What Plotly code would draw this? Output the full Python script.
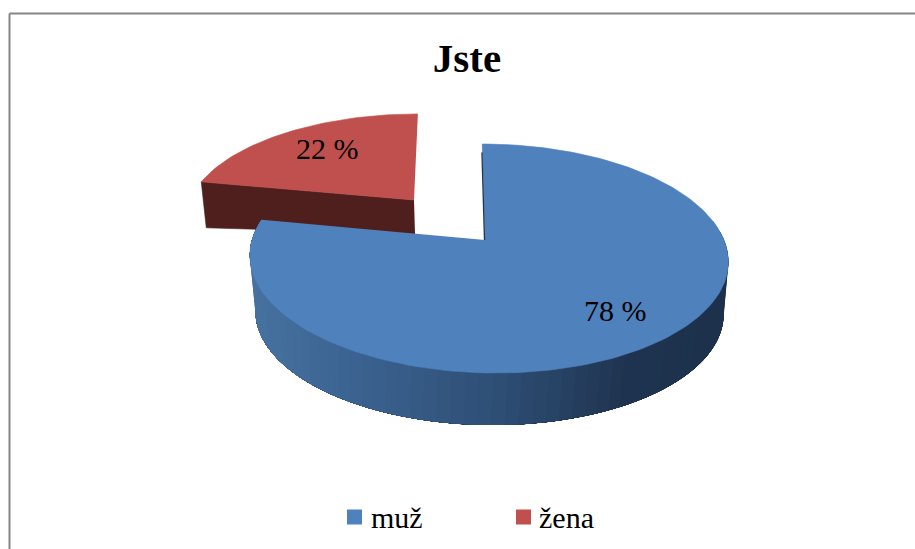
import numpy as np
import plotly.graph_objects as go

# Data
categories = ["muž", "žena"]
values = [78, 22]
title_text = "Jste"

# Styles
TOP = ["#4f81bd", "#c0504d"]
RED_WALL = "#4f1f1e"
FONT = "Liberation Serif"
GRAD_STOPS_X = [255, 350, 500, 620, 725]
GRAD_STOPS_RGB = [(72, 114, 160), (60, 100, 146), (46, 78, 116), (31, 52, 80), (29, 49, 76)]
P = 0.1616


def project(angles_deg, apex, a, k, shear, r=1.0):
    """Perspective projection of points on a pie, clockwise from 12 o'clock."""
    t = np.radians(angles_deg)
    u, v = r * np.sin(t), -r * np.cos(t)
    d = 1 - P * v
    y_off = k * v / d
    x = apex[0] + a * u / d + shear * y_off
    y = apex[1] + y_off
    return x, y


total = sum(values)
blue_end = 360 * values[0] / total

BLUE = dict(apex=(488, 240), a=236, k=111.5, shear=0.06)
BLUE_APEX = (485, 240)
BLUE_LOW = dict(apex=(489, 294.5), a=231, k=109.5, shear=0.03)
RED = dict(apex=(414, 200), a=224, k=100, shear=-0.045)
RED_APEX_DROP = (1, 34)
RED_RIM_DROP = (5, 46)

fig = go.Figure()


def poly(x, y, color, lw=0.6):
    fig.add_trace(go.Scatter(x=list(x), y=list(y), mode="lines", fill="toself",
                             fillcolor=color, line=dict(color=color, width=lw),
                             showlegend=False, hoverinfo="skip"))


# Red slice: wall then top
xa, ya = project(np.array([blue_end]), **RED)
ax, ay = RED["apex"]
poly([ax, xa[0], xa[0] + RED_RIM_DROP[0], ax + RED_APEX_DROP[0]],
     [ay, ya[0], ya[0] + RED_RIM_DROP[1], ay + RED_APEX_DROP[1]], RED_WALL)
arc = np.linspace(blue_end, 360, 50)
x, y = project(arc, **RED)
poly([ax, *x], [ay, *y], TOP[1])

# Blue wall, shaded: each band is painted over the previous one to avoid seams
edges = np.linspace(80, blue_end, 71)
for a0 in edges[:-1]:
    seg = np.linspace(a0, blue_end, 60)
    xt, yt = project(seg, **BLUE)
    xl, yl = project(seg, **BLUE_LOW)
    xm = xl[:3].mean()
    rgb = [np.interp(xm, GRAD_STOPS_X, [s[i] for s in GRAD_STOPS_RGB]) for i in range(3)]
    col = "rgb(%d,%d,%d)" % tuple(rgb)
    poly([*xt, *xl[::-1]], [*yt, *yl[::-1]], col, lw=0)

# Blue top
arc = np.linspace(0, blue_end, 200)
x, y = project(arc, **BLUE)
poly([BLUE_APEX[0], *x], [BLUE_APEX[1], *y], TOP[0])

# Thin dark inner edge of the blue slice at 12 o'clock
xr, yr = project(np.array([0.0]), r=0.9, **BLUE)
fig.add_trace(go.Scatter(x=[BLUE_APEX[0] - 0.5, xr[0] - 0.8], y=[BLUE_APEX[1], yr[0]],
                         mode="lines", line=dict(color="#1f3550", width=1.3),
                         showlegend=False, hoverinfo="skip"))

# Legend keys: square markers with their category text
legend_key_pos = [(354.5, 517), (523.5, 517)]
legend_text_x = [368.5, 536.5]
for name, col, (lx, ly), tx in zip(categories, TOP, legend_key_pos, legend_text_x):
    fig.add_trace(go.Scatter(x=[lx], y=[ly], mode="markers", name=name, showlegend=False,
                             marker=dict(symbol="square", size=15, color=col)))
    fig.add_annotation(x=tx, y=ly, xref="x", yref="y", text=name, showarrow=False, xanchor="left",
                       font=dict(family=FONT, size=30, color="black"))

# Data labels
label_pos = [(615, 310), (327, 148)]
for val, (lx, ly) in zip(values, label_pos):
    fig.add_annotation(x=lx, y=ly, xref="x", yref="y", text=f"{val} %", showarrow=False,
                       font=dict(family=FONT, size=30, color="black"))

fig.update_layout(
    width=915, height=549, autosize=False,
    margin=dict(l=0, r=0, t=0, b=0),
    paper_bgcolor="white", plot_bgcolor="white",
    showlegend=False,
    title=dict(text=f"<b>{title_text}</b>", x=467 / 915, xanchor="center",
               y=1 - 58 / 549, yanchor="middle",
               font=dict(family=FONT, size=41, color="black")),
    xaxis=dict(range=[0, 915], visible=False, fixedrange=True),
    yaxis=dict(range=[549, 0], visible=False, fixedrange=True),
    shapes=[
        dict(type="line", xref="paper", yref="paper", x0=9.5 / 915, x1=1, y0=1 - 13.5 / 549, y1=1 - 13.5 / 549,
             line=dict(color="#868686", width=2)),
        dict(type="line", xref="paper", yref="paper", x0=9.5 / 915, x1=9.5 / 915, y0=0, y1=1 - 13.5 / 549,
             line=dict(color="#868686", width=2)),
    ],
)
fig.write_html("out.html", config={"displayModeBar": False},
               post_script="document.body.style.margin='0';document.body.style.overflow='hidden';")
